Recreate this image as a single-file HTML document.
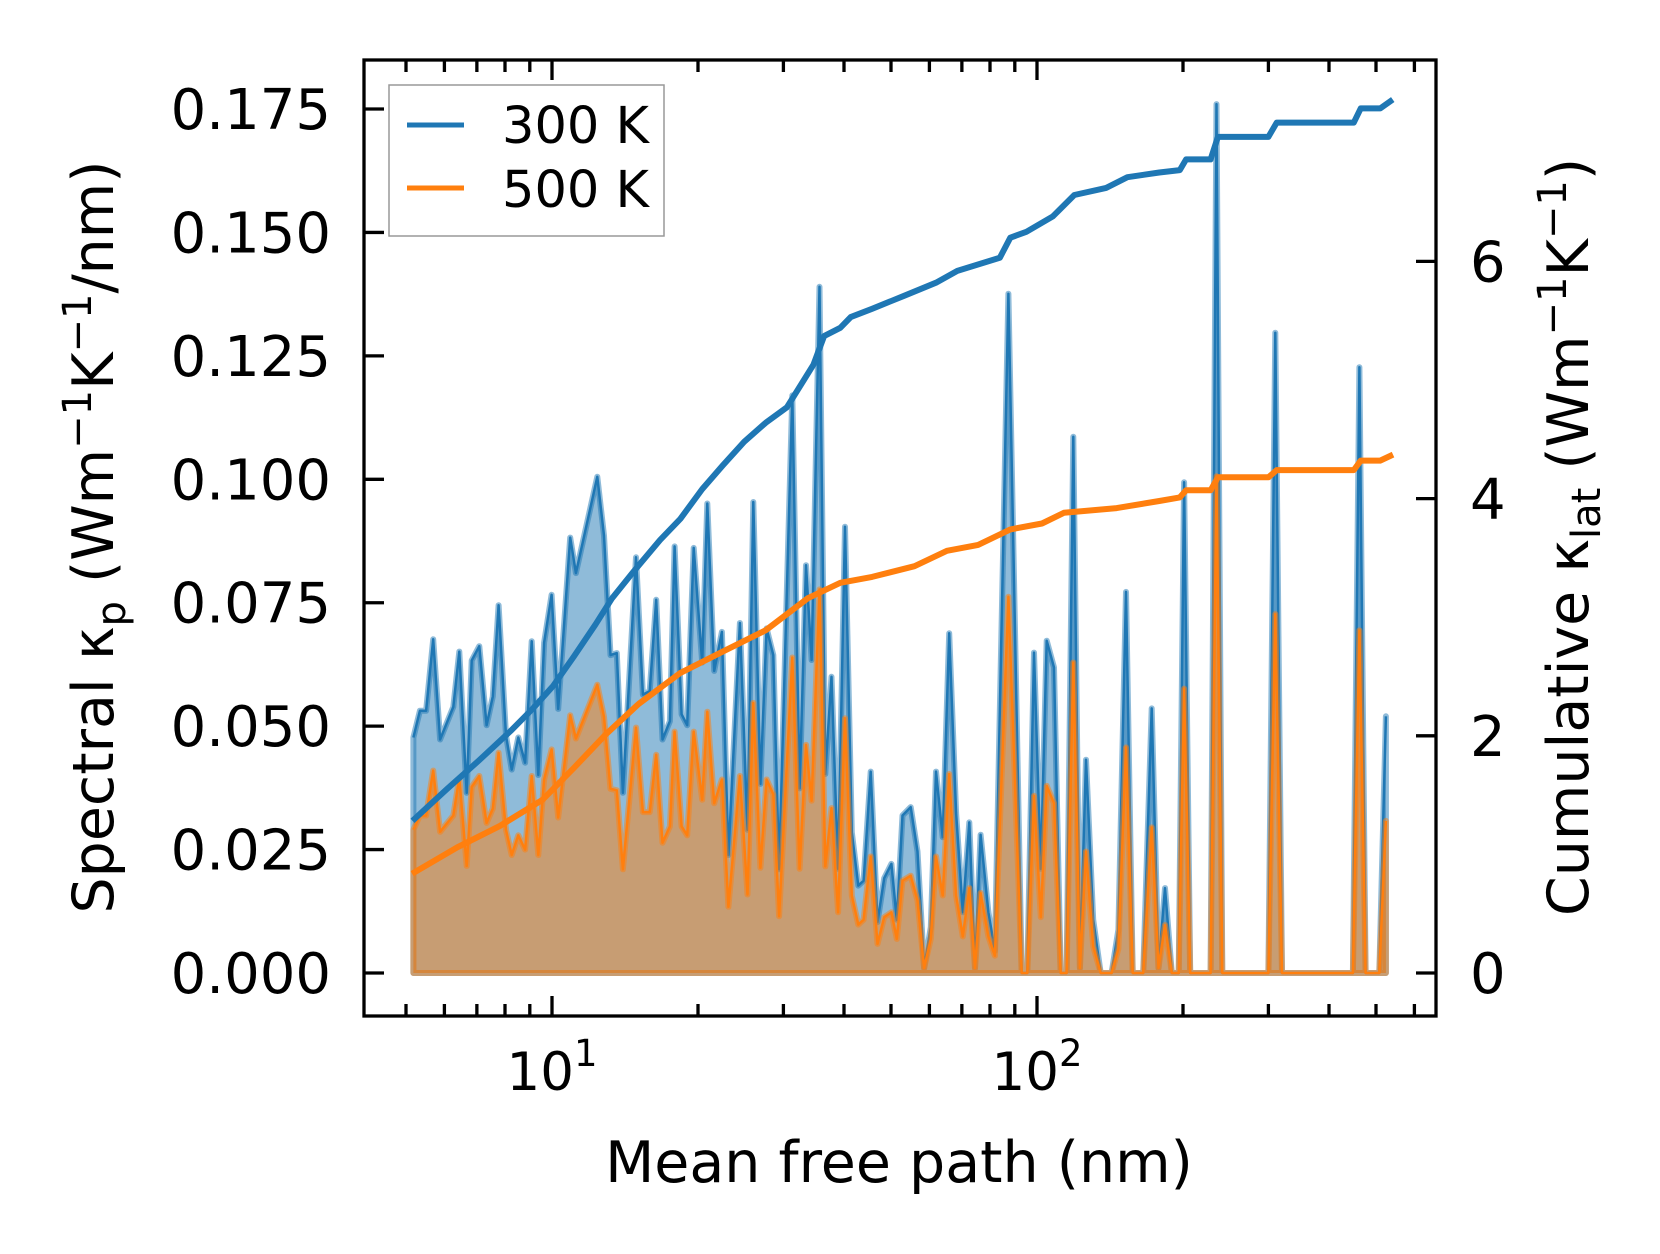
<!DOCTYPE html>
<html>
<head>
<meta charset="utf-8">
<style>
  html, body { margin: 0; padding: 0; background: #fff; }
  svg { display: block; font-family: "DejaVu Sans", "Liberation Sans", sans-serif; }
</style>
</head>
<body>
<svg id="chart" width="1660" height="1254" viewBox="0 0 1660 1254" xmlns="http://www.w3.org/2000/svg">
  <rect x="0" y="0" width="1660" height="1254" fill="#ffffff"/>
  <g id="plot"></g>
  <g id="axes"></g>
  <g>
    <rect x="389" y="85" width="275" height="151" fill="#ffffff" fill-opacity="0.8" stroke="#999999" stroke-width="1.5"/>
    <line x1="407" y1="125" x2="464" y2="125" stroke="#1f77b4" stroke-width="5"/>
    <text x="502" y="143" font-size="51">300 K</text>
    <line x1="407" y1="188" x2="464" y2="188" stroke="#ff7f0e" stroke-width="5"/>
    <text x="502" y="207" font-size="51">500 K</text>
  </g>
  <text x="899" y="1182" font-size="57" text-anchor="middle">Mean free path (nm)</text>
  <text transform="translate(113,537) rotate(-90)" font-size="57" text-anchor="middle">Spectral κ<tspan font-size="40" dy="12">p</tspan><tspan dy="-12"> (Wm</tspan><tspan font-size="40" dy="-22">−1</tspan><tspan dy="22">K</tspan><tspan font-size="40" dy="-22">−1</tspan><tspan dy="22">/nm)</tspan></text>
  <text transform="translate(1588,537) rotate(-90)" font-size="57" text-anchor="middle">Cumulative κ<tspan font-size="40" dy="12">lat</tspan><tspan dy="-12"> (Wm</tspan><tspan font-size="40" dy="-22">−1</tspan><tspan dy="22">K</tspan><tspan font-size="40" dy="-22">−1</tspan><tspan dy="22">)</tspan></text>
</svg>
<script>
const mfp = [5.18,5.34,5.50,5.69,5.88,6.26,6.44,6.67,6.83,7.08,7.33,7.55,7.76,8.04,8.26,8.52,8.80,9.08,9.37,9.63,9.98,10.3,10.9,11.2,12.4,12.8,13.2,13.6,14.0,14.9,15.4,15.9,16.4,16.9,17.5,17.9,18.5,19.0,19.6,20.4,20.9,21.6,22.4,23.1,24.4,25.3,26.0,26.9,27.7,28.6,29.4,
31.3,32.4,33.4,34.3,35.6,36.6,37.7,38.9,40.2,41.5,42.8,43.9,45.4,46.9,48.4,50.1,51.4,52.8,54.9,56.7,58.5,60.4,61.9,63.9,65.9,68.1,70.3,72.5,74.5,76.5,79.4,81.9,87.3,93.0,95.5,98.6,101.8,104.7,108.4,111.9,115.1,118.8,122.6,126.2,130.6,135.3,142.5,147.2,152.6,157.5,165.6,172.4,178.0,183.6,189.6,
196,201,207,228,234.5,241,300,310,320,448,462,476,508,524];
const kappa300 = [0.0477,0.0531,0.0531,0.0676,0.0473,0.0539,0.0651,0.0365,0.0633,0.0662,0.0502,0.0560,0.0745,0.0481,0.0412,0.0477,0.0426,0.0672,0.0401,0.0669,0.0766,0.0535,0.0882,0.0810,0.1005,0.0886,0.0644,0.0648,0.0365,0.0842,0.0564,0.0571,0.0756,0.0473,0.0510,0.0864,0.0524,0.0502,0.0861,0.0629,0.0951,0.0612,0.0691,0.0239,0.0709,0.0290,0.0954,0.0383,0.0698,0.0644,0.0210,
0.117,0.0374,0.0826,0.0634,0.139,0.0403,0.060,0.0211,0.0904,0.0285,0.0177,0.0187,0.0408,0.0103,0.0192,0.0221,0.0108,0.0319,0.0336,0.0246,0.001,0.0093,0.0408,0.0275,0.0688,0.0324,0.0123,0.0305,0.001,0.028,0.0123,0.0045,0.1376,0,0,0.0649,0.0211,0.0673,0.0619,0,0,0.1086,0.001,0.0432,0.0108,0,0,0.0088,0.0772,0,0,0.0536,0.001,0.0172,0,
0,0.0994,0,0,0.176,0,0,0.1297,0,0,0.1227,0,0,0.052];
const kappa500 = [0.0290,0.0319,0.0319,0.0410,0.0286,0.0319,0.0395,0.0217,0.0377,0.0399,0.0304,0.0333,0.0446,0.0290,0.0239,0.0279,0.0250,0.0399,0.0239,0.0392,0.0453,0.0315,0.0522,0.0475,0.0584,0.0519,0.0373,0.0370,0.0210,0.0497,0.0326,0.0326,0.0442,0.0264,0.0297,0.0489,0.0297,0.0279,0.0489,0.0351,0.0529,0.0344,0.0392,0.0134,0.0399,0.0159,0.0547,0.0213,0.0392,0.0362,0.0115,
0.0639,0.0211,0.0462,0.0349,0.0777,0.0216,0.0334,0.0123,0.0516,0.0157,0.0098,0.0108,0.0236,0.0059,0.0113,0.0123,0.0069,0.0187,0.0197,0.0147,0.001,0.0069,0.0236,0.0157,0.0403,0.0157,0.0074,0.0172,0.001,0.0162,0.0074,0.0035,0.0762,0,0,0.0359,0.0113,0.0379,0.0344,0,0,0.0629,0.001,0.0246,0.0054,0,0,0.0049,0.0457,0,0,0.0295,0.001,0.0097,0,
0,0.0576,0,0,0.1006,0,0,0.0727,0,0,0.0694,0,0,0.0308];
const cumMfp300 = [5.21,6.07,7.06,8.21,9.08,10.05,11.1,12.3,13.3,14.7,16.7,18.4,20.4,22.5,24.9,27.6,30.5,34.6,36.4,39.3,41.3,45.7,53.2,61.9,68.5,83.8,88.1,95.1,107.9,119.4,138.8,153.6,178.7,197,203,228,236,300,312,450,465,510,535];
const cum300 = [1.30,1.55,1.79,2.04,2.22,2.42,2.67,2.94,3.16,3.38,3.65,3.83,4.08,4.28,4.48,4.64,4.77,5.13,5.37,5.44,5.53,5.60,5.71,5.82,5.92,6.03,6.20,6.25,6.38,6.56,6.62,6.71,6.75,6.77,6.86,6.86,7.05,7.05,7.17,7.17,7.29,7.29,7.35];
const cumMfp500 = [5.21,6.38,7.81,9.56,11.1,12.9,15.1,18.4,22.5,27.6,33.7,39.3,45.7,55.9,65.2,75.6,88.1,102.4,113.6,146,178.7,197,203,228,236,300,312,450,465,510,535];
const cum500 = [0.85,1.06,1.24,1.46,1.73,2.01,2.27,2.53,2.71,2.89,3.16,3.29,3.34,3.43,3.56,3.61,3.74,3.79,3.88,3.92,3.98,4.01,4.07,4.07,4.18,4.18,4.24,4.24,4.32,4.32,4.36];
const leftTicks = [0, 0.025, 0.05, 0.075, 0.1, 0.125, 0.15, 0.175];
const leftTickLabels = ["0.000","0.025","0.050","0.075","0.100","0.125","0.150","0.175"];
const rightTicks = [0, 2, 4, 6];
const xMajor = [10, 100];
const xMajorExp = ["1", "2"];
const xMinor = [5,6,7,8,9,20,30,40,50,60,70,80,90,200,300,400,500,600];

const L = 364, R = 1436, T = 60, B = 1016;
function xs(m) { return 552 + 485 * (Math.log10(m) - 1); }
function yl(v) { return 973 - v * 4937; }
function yr(c) { return 973 - c * 118.6; }
const NS = "http://www.w3.org/2000/svg";
function mk(tag, attrs, parent) {
  const e = document.createElementNS(NS, tag);
  for (const k in attrs) e.setAttribute(k, attrs[k]);
  parent.appendChild(e);
  return e;
}
const plot = document.getElementById('plot');
const axes = document.getElementById('axes');

function spectral(vals, color, name) {
  let pts = mfp.map((m, i) => xs(m).toFixed(1) + ',' + yl(vals[i]).toFixed(1));
  const poly = xs(mfp[mfp.length-1]).toFixed(1) + ',' + yl(0) + ' ' + xs(mfp[0]).toFixed(1) + ',' + yl(0);
  const f = mk('polygon', {points: pts.join(' ') + ' ' + poly, fill: color, 'fill-opacity': 0.5, stroke: color, 'stroke-opacity': 0.5, 'stroke-width': 6, 'stroke-linejoin': 'round'}, plot);
  
  
  const l = mk('polyline', {points: pts.join(' '), fill: 'none', stroke: color, 'stroke-width': 2.5, 'stroke-linejoin': 'round'}, plot);
  
  
}
spectral(kappa300, '#1f77b4', '300k');
spectral(kappa500, '#ff7f0e', '500k');

function cumLine(xv, yv, color, name) {
  const pts = xv.map((m, i) => xs(m).toFixed(1) + ',' + yr(yv[i]).toFixed(1));
  const l = mk('polyline', {points: pts.join(' '), fill: 'none', stroke: color, 'stroke-width': 6, 'stroke-linejoin': 'round', 'stroke-linecap': 'square'}, plot);
  
  
}
cumLine(cumMfp300, cum300, '#1f77b4', '300k');
cumLine(cumMfp500, cum500, '#ff7f0e', '500k');

const tk = {stroke: '#000', 'stroke-width': 3.3};
leftTicks.forEach((v, i) => {
  const y = yl(v);
  const t = mk('line', Object.assign({x1: L, y1: y, x2: L + 20, y2: y}, tk), axes);
  
  
  const lb = mk('text', {x: L - 33, y: y + 20, 'font-size': 56, 'text-anchor': 'end'}, axes);
  lb.textContent = leftTickLabels[i];
  
  
});
rightTicks.forEach(c => {
  const y = yr(c);
  const t = mk('line', Object.assign({x1: R - 20, y1: y, x2: R, y2: y}, tk), axes);
  
  
  const lb = mk('text', {x: R + 34, y: y + 20, 'font-size': 56}, axes);
  lb.textContent = String(c);
  
  
});
xMajor.forEach((m, i) => {
  const x = xs(m);
  const t1 = mk('line', Object.assign({x1: x, y1: B, x2: x, y2: B - 20}, tk), axes);
  
  
  const t2 = mk('line', Object.assign({x1: x, y1: T, x2: x, y2: T + 20}, tk), axes);
  
  
  const lb = mk('text', {x: x, y: 1090, 'font-size': 53, 'text-anchor': 'middle'}, axes);
  
  
  lb.appendChild(document.createTextNode('10'));
  const sp = mk('tspan', {'font-size': 37, dy: -24}, lb);
  sp.textContent = xMajorExp[i];
});
xMinor.forEach(m => {
  const x = xs(m);
  const t1 = mk('line', Object.assign({x1: x, y1: B, x2: x, y2: B - 12}, tk), axes);
  
  
  const t2 = mk('line', Object.assign({x1: x, y1: T, x2: x, y2: T + 12}, tk), axes);
  
  
});
const frame = mk('rect', {x: L, y: T, width: R - L, height: B - T, fill: 'none', stroke: '#000', 'stroke-width': 3.3}, axes);


</script>
</body>
</html>
